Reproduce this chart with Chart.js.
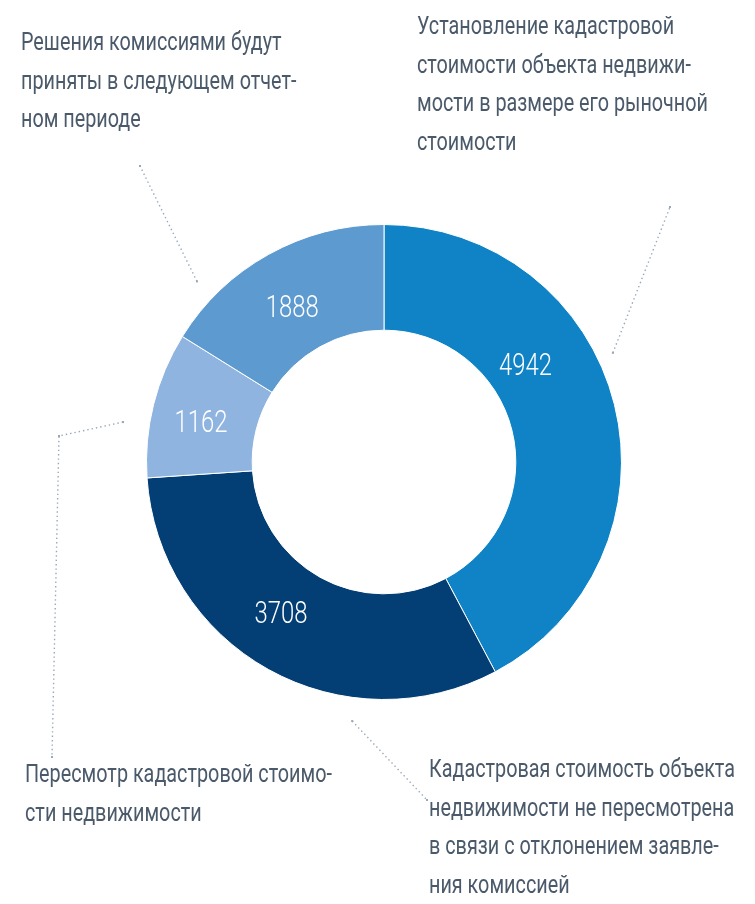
<!DOCTYPE html>
<html>
<head>
<meta charset="utf-8">
<script src="https://cdn.jsdelivr.net/npm/chart.js@4.4.1/dist/chart.umd.min.js"></script>
<style>
  html, body { margin: 0; padding: 0; background: #ffffff; }
  #wrap { position: relative; width: 755px; height: 904px; }
</style>
</head>
<body>
<div id="wrap"><canvas id="c" width="755" height="904"></canvas></div>
<script>
// ---- data ----
const categories = [
  ["Установление кадастровой", "стоимости объекта недвижи-", "мости в размере его рыночной", "стоимости"],
  ["Кадастровая стоимость объекта", "недвижимости не пересмотрена", "в связи с отклонением заявле-", "ния комиссией"],
  ["Пересмотр кадастровой стоимо-", "сти недвижимости"],
  ["Решения комиссиями будут", "приняты в следующем отчет-", "ном периоде"]
];
const values = [4942, 3708, 1162, 1888];
const colors = ["#0f83c5", "#033f75", "#8fb4e0", "#5c9ad0"];

// ---- layout (positions / styles only) ----
const FONT = "Roboto, 'Liberation Sans', sans-serif";
const TEXT_COLOR = "#4b5a6a";
const LINE_H = 38.6;
const TEXT_SIZE = 26.5;
const NUM_SIZE = 31.5;
// reference widths used to set a condensed horizontal scale
const REF_LINE = "Пересмотр кадастровой стоимо-", REF_LINE_W = 307;
const REF_NUM = "4942", REF_NUM_W = 53;
// value label polar placement: [angle from top (deg, clockwise), radius px]
const valueLabelPolar = [[55.8, 171], [214, 184], [282, 187], [329.2, 179]];
// leader lines: start in polar (angle, radius), then bend/end points
const leaders = [
  { a: 64.5, r: 253.6, pts: [[670, 207]] },
  { a: 187.0, r: 261, pts: [[427, 800]] },
  { a: 278.7, r: 264, pts: [[59, 436], [52, 757]] },
  { a: 314.0, r: 260, pts: [[140, 166]] }
];
const textPos = [[417, 34], [429, 777], [25, 782], [21, 50]];

function polar(cx, cy, deg, r) {
  const t = deg * Math.PI / 180;
  return [cx + r * Math.sin(t), cy - r * Math.cos(t)];
}

const overlay = {
  id: 'overlay',
  afterDatasetsDraw(chart) {
    const ctx = chart.ctx;
    const meta = chart.getDatasetMeta(0);
    const arc0 = meta.data[0];
    const cx = arc0.x, cy = arc0.y;
    ctx.save();
    // value labels
    ctx.fillStyle = '#ffffff';
    ctx.font = '300 ' + NUM_SIZE + 'px ' + FONT;
    const nsx = REF_NUM_W / ctx.measureText(REF_NUM).width;
    ctx.textAlign = 'center';
    ctx.textBaseline = 'middle';
    values.forEach((v, i) => {
      const [x, y] = polar(cx, cy, valueLabelPolar[i][0], valueLabelPolar[i][1]);
      ctx.save();
      ctx.translate(x, y + 1);
      ctx.scale(nsx, 1);
      ctx.fillText(String(v), 0, 0);
      ctx.restore();
    });
    // leader lines
    ctx.strokeStyle = '#98a8b8';
    ctx.fillStyle = '#98a8b8';
    ctx.lineWidth = 1.4;
    ctx.setLineDash([1.4, 3]);
    leaders.forEach(l => {
      const s = polar(cx, cy, l.a, l.r);
      ctx.beginPath();
      ctx.moveTo(s[0], s[1]);
      l.pts.forEach(p => ctx.lineTo(p[0], p[1]));
      ctx.stroke();
      ctx.fillRect(s[0] - 1, s[1] - 1, 2, 2);
      const e = l.pts[l.pts.length - 1];
      ctx.fillRect(e[0] - 1, e[1] - 1, 2, 2);
      if (l.pts.length > 1) { const m = l.pts[0]; ctx.fillRect(m[0]-1, m[1]-1, 2, 2); }
    });
    ctx.setLineDash([]);
    // category texts
    ctx.fillStyle = TEXT_COLOR;
    ctx.font = '400 ' + TEXT_SIZE + 'px ' + FONT;
    const tsx = REF_LINE_W / ctx.measureText(REF_LINE).width;
    ctx.textAlign = 'left';
    ctx.textBaseline = 'alphabetic';
    chart.data.labels.forEach((lines, i) => {
      lines.forEach((ln, j) => {
        ctx.save();
        ctx.translate(textPos[i][0], textPos[i][1] + j * LINE_H);
        ctx.scale(tsx, 1);
        ctx.fillText(ln, 0, 0);
        ctx.restore();
      });
    });
    ctx.restore();
  }
};

new Chart(document.getElementById('c'), {
  type: 'doughnut',
  data: {
    labels: categories,
    datasets: [{
      data: values,
      backgroundColor: colors,
      borderColor: '#ffffff',
      borderWidth: 1
    }]
  },
  options: {
    responsive: false,
    animation: false,
    cutout: '55.5%',
    layout: { padding: { left: 146, right: 133, top: 224, bottom: 204 } },
    plugins: { legend: { display: false }, tooltip: { enabled: false } }
  },
  plugins: [overlay]
});
</script>
</body>
</html>
